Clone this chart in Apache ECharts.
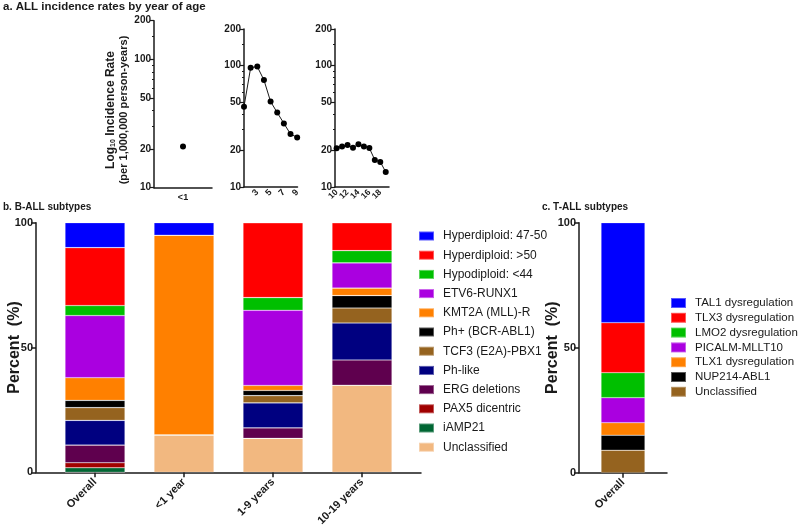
<!DOCTYPE html>
<html><head><meta charset="utf-8">
<script src="https://cdn.jsdelivr.net/npm/echarts@6/dist/echarts.min.js"></script>
<style>html,body{margin:0;padding:0;background:#fff}#c{width:800px;height:528px}</style>
</head><body><div id="c"></div>
<script>
// ---- Panel a data ----
const infantAges = ['<1'];
const infantRate = [20.9];
const childAges = [1, 2, 3, 4, 5, 6, 7, 8, 9];
const childRate = [45.9, 96, 98, 76, 50.5, 41, 33.4, 27.3, 25.6];
const teenAges = [10, 11, 12, 13, 14, 15, 16, 17, 18, 19];
const teenRate = [20.8, 21.6, 22.2, 21.0, 22.5, 21.6, 20.9, 16.7, 16.1, 13.3];
const logTickLabels = [10, 20, 50, 100, 200];
const logMinorTicks = [30, 40, 60, 70, 80, 90, 150];
const childTickLabels = [3, 5, 7, 9];
const teenTickLabelsA = [10, 14, 18];
const teenTickLabelsB = [12, 16];

// ---- Panel b data (subtypes listed top -> bottom of stack) ----
const bCategories = ['Overall', '<1 year', '1-9 years', '10-19 years'];
const bSubtypes = ['Hyperdiploid: 47-50', 'Hyperdiploid: >50', 'Hypodiploid: <44', 'ETV6-RUNX1',
  'KMT2A (MLL)-R', 'Ph+ (BCR-ABL1)', 'TCF3 (E2A)-PBX1', 'Ph-like', 'ERG deletions',
  'PAX5 dicentric', 'iAMP21', 'Unclassified'];
const overallPct = [10, 23.2, 4, 24.9, 9.1, 2.9, 5.1, 9.9, 7.1, 2.0, 1.8, 0];
const infantPct  = [5, 0, 0, 0, 80, 0, 0, 0, 0, 0, 0, 15];
const childPct   = [0, 30, 5.1, 30.1, 2, 2.1, 2.9, 10, 4.2, 0, 0, 13.6];
const teenPct    = [0, 11.2, 4.9, 10.1, 3, 5, 6, 14.8, 10.1, 0, 0, 34.9];
const bColors = ['#0000FF', '#FF0000', '#00BF00', '#AA00E0', '#FF8000', '#000000', '#95631F',
  '#000080', '#5F004E', '#A00000', '#006633', '#F2B880'];

// ---- Panel c data (top -> bottom) ----
const tCategories = ['Overall'];
const tSubtypes = ['TAL1 dysregulation', 'TLX3 dysregulation', 'LMO2 dysregulation', 'PICALM-MLLT10',
  'TLX1 dysregulation', 'NUP214-ABL1', 'Unclassified '];
const tOverallPct = [40, 20, 10, 10, 5, 6, 9];
const tColors = ['#0000FF', '#FF0000', '#00BF00', '#AA00E0', '#FF8000', '#000000', '#95631F'];

const FONT = 'Liberation Sans, Arial, Helvetica, sans-serif';
const INK = '#1a1a1a';
const lg = v => Math.log10(v);
const lgMax = lg(200);

function logYAxis(grid) {
  return {
    type: 'value', gridIndex: grid, min: 1, max: lgMax,
    axisLine: { show: true, lineStyle: { color: INK, width: 1.5 } },
    axisTick: { show: true, length: 4, lineStyle: { color: INK, width: 1.2 }, customValues: logTickLabels.map(lg) },
    axisLabel: { customValues: logTickLabels.map(lg), formatter: v => String(Math.round(Math.pow(10, v))),
      fontFamily: FONT, fontWeight: 'bold', fontSize: 10, color: INK, margin: 3 },
    splitLine: { show: false }
  };
}
function minorYAxis(grid) {
  return {
    type: 'value', gridIndex: grid, min: 1, max: lgMax, position: 'left',
    axisLine: { show: false },
    axisTick: { show: true, length: 2, lineStyle: { color: INK, width: 1 }, customValues: logMinorTicks.map(lg) },
    axisLabel: { show: false }, splitLine: { show: false }
  };
}

const lineStyleSeries = (xi, yi, data) => ({
  type: 'line', xAxisIndex: xi, yAxisIndex: yi, data,
  symbol: 'circle', symbolSize: 6, showSymbol: true,
  lineStyle: { color: INK, width: 1 }, itemStyle: { color: '#000' }, silent: true, animation: false
});

const series = [];
series.push(lineStyleSeries(0, 0, infantAges.map((a, i) => [a, lg(infantRate[i])])));
series.push(lineStyleSeries(1, 1, childAges.map((a, i) => [a, lg(childRate[i])])));
series.push(lineStyleSeries(2, 2, teenAges.map((a, i) => [a, lg(teenRate[i])])));

const bByCategory = [overallPct, infantPct, childPct, teenPct];
for (let s = bSubtypes.length - 1; s >= 0; s--) {
  series.push({
    type: 'bar', name: bSubtypes[s], stack: 'b', xAxisIndex: 3, yAxisIndex: 6,
    barWidth: 60, itemStyle: { color: bColors[s], borderColor: 'rgba(255,255,255,0.35)', borderWidth: 0.6 },
    data: bByCategory.map(arr => arr[s]), animation: false
  });
}
for (let s = tSubtypes.length - 1; s >= 0; s--) {
  series.push({
    type: 'bar', name: tSubtypes[s], stack: 't', xAxisIndex: 5, yAxisIndex: 8,
    barWidth: 44, itemStyle: { color: tColors[s], borderColor: 'rgba(255,255,255,0.35)', borderWidth: 0.6 },
    data: [tOverallPct[s]], animation: false
  });
}

const catXLabel = { fontFamily: FONT, fontWeight: 'bold', fontSize: 11, color: INK, rotate: 45, margin: 8, interval: 0 };
const smallRotLabel = { fontFamily: FONT, fontWeight: 'bold', fontSize: 9, color: INK, rotate: 45, margin: 4,
  hideOverlap: false, showMinLabel: true, showMaxLabel: true };

const pctAxisCommon = {
  type: 'value', min: 0, max: 100, interval: 50,
  nameLocation: 'middle', nameRotate: 90, nameMoveOverlap: false,
  nameTextStyle: { fontFamily: FONT, fontWeight: 'bold', fontSize: 16, color: INK },
  axisLine: { show: true, lineStyle: { color: INK, width: 1.5 } },
  axisTick: { show: true, length: 5, lineStyle: { color: INK, width: 1.5 } },
  axisLabel: { fontFamily: FONT, fontWeight: 'bold', fontSize: 11, color: INK, margin: 3 },
  splitLine: { show: false }
};
const teenX = (labels, showLine) => ({
  type: 'value', gridIndex: 2, min: 9.7, max: 19.6, position: 'bottom', offset: 0,
  axisLine: { show: showLine, lineStyle: { color: INK, width: 1.5 } }, axisTick: { show: false }, splitLine: { show: false },
  axisLabel: Object.assign({ customValues: labels }, smallRotLabel, { fontSize: 8.5 })
});

const G = o => Object.assign({ outerBoundsMode: 'none', containLabel: false }, o);

const option = {
  backgroundColor: '#fff',
  animation: false,
  textStyle: { fontFamily: FONT },
  grid: [
    G({ left: 154, top: 20.7, width: 58, height: 167 }),
    G({ left: 244, top: 29, width: 53.5, height: 158 }),
    G({ left: 335, top: 29, width: 54, height: 158 }),
    G({ left: 50.5, top: 222.7, width: 356, height: 249.6 }),
    G({ left: 36, top: 222.7, width: 385, height: 249.6 }),
    G({ left: 579, top: 222.7, width: 88, height: 250 })
  ],
  xAxis: [
    { type: 'category', gridIndex: 0, data: infantAges,
      axisLine: { lineStyle: { color: INK, width: 1.5 } }, axisTick: { show: false },
      axisLabel: { fontFamily: FONT, fontWeight: 'bold', fontSize: 9, color: INK, margin: 5 } },
    { type: 'value', gridIndex: 1, min: 1, max: 9.05,
      axisLine: { lineStyle: { color: INK, width: 1.5 } }, axisTick: { show: false }, splitLine: { show: false },
      axisLabel: Object.assign({ customValues: childTickLabels }, smallRotLabel) },
    teenX(teenTickLabelsA, true),
    { type: 'category', gridIndex: 3, data: bCategories,
      axisLine: { show: false }, axisTick: { show: true, alignWithLabel: true, length: 5, lineStyle: { color: INK, width: 1.5 } },
      axisLabel: catXLabel },
    { type: 'value', gridIndex: 4, min: 0, max: 1,
      axisLine: { show: true, lineStyle: { color: INK, width: 1.5 } }, axisTick: { show: false },
      axisLabel: { show: false }, splitLine: { show: false } },
    { type: 'category', gridIndex: 5, data: tCategories,
      axisLine: { lineStyle: { color: INK, width: 1.5 } },
      axisTick: { show: true, alignWithLabel: true, length: 5, lineStyle: { color: INK, width: 1.5 } },
      axisLabel: catXLabel },
    teenX(teenTickLabelsB, false)
  ],
  yAxis: [
    logYAxis(0), logYAxis(1), logYAxis(2),
    minorYAxis(0), minorYAxis(1), minorYAxis(2),
    { type: 'value', gridIndex: 3, min: 0, max: 100, show: false },
    Object.assign({ gridIndex: 4, name: 'Percent  (%)', nameGap: 13 }, pctAxisCommon),
    Object.assign({ gridIndex: 5, name: 'Percent  (%)', nameGap: 18 }, pctAxisCommon)
  ],
  legend: [
    { data: bSubtypes, orient: 'vertical', left: 413, top: 224, icon: 'rect',
      itemWidth: 15, itemHeight: 9, itemGap: 5.2, selectedMode: false,
      textStyle: { fontFamily: FONT, fontSize: 12, color: INK, lineHeight: 14, padding: [0, 0, 0, 4] } },
    { data: tSubtypes, orient: 'vertical', left: 665, top: 291.5, icon: 'rect',
      itemWidth: 15, itemHeight: 10, itemGap: 1.8, selectedMode: false,
      textStyle: { fontFamily: FONT, fontSize: 11.5, color: INK, lineHeight: 13, padding: [0, 0, 0, 4] } }
  ],
  graphic: [
    { type: 'text', left: 3, top: 1, style: { text: 'a. ALL incidence rates by year of age', font: 'bold 11.5px ' + FONT, fill: INK } },
    { type: 'text', left: 3, top: 202, style: { text: 'b. B-ALL subtypes', font: 'bold 10px ' + FONT, fill: INK } },
    { type: 'text', left: 542, top: 202, style: { text: 'c. T-ALL subtypes', font: 'bold 10px ' + FONT, fill: INK } },
    { type: 'text', x: 111, y: 110, rotation: Math.PI / 2,
      style: { text: 'Log{sub|10} Incidence Rate', font: 'bold 12px ' + FONT, fill: INK, align: 'center', verticalAlign: 'middle',
        rich: { sub: { fontSize: 7, fontWeight: 'bold', fontFamily: FONT, verticalAlign: 'bottom', fill: INK } } } },
    { type: 'text', x: 124, y: 110, rotation: Math.PI / 2,
      style: { text: '(per 1,000,000 person-years)', font: 'bold 11px ' + FONT, fill: INK, align: 'center', verticalAlign: 'middle' } }
  ],
  series
};
const chart = echarts.init(document.getElementById('c'), null, { renderer: 'canvas' });
chart.setOption(option);
</script>
</body></html>
